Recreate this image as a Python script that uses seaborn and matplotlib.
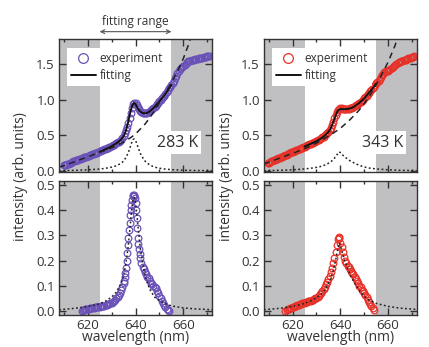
import matplotlib
matplotlib.use("Agg")
import matplotlib.pyplot as plt
from matplotlib.lines import Line2D
from matplotlib.ticker import MultipleLocator, FormatStrFormatter
import numpy as np
import pandas as pd
import seaborn as sns

# ---------------- data ----------------
# 283 K : full spectrum, sampled every 0.5 nm
wl_283 = np.arange(610, 671.25, 0.5)
int_283 = [0.080, 0.085, 0.090, 0.097, 0.105, 0.112, 0.120, 0.127, 0.135, 0.142,
           0.150, 0.155, 0.160, 0.166, 0.172, 0.178, 0.185, 0.191, 0.197, 0.203,
           0.210, 0.216, 0.222, 0.228, 0.235, 0.241, 0.248, 0.254, 0.260, 0.267,
           0.275, 0.282, 0.290, 0.297, 0.305, 0.312, 0.320, 0.327, 0.335, 0.342,
           0.350, 0.360, 0.370, 0.380, 0.390, 0.402, 0.415, 0.427, 0.440, 0.460,
           0.49, 0.53, 0.57, 0.62, 0.68, 0.75, 0.82, 0.89, 0.94, 0.96,
           0.955, 0.93, 0.90, 0.87, 0.845, 0.83, 0.815, 0.81, 0.81, 0.812,
           0.82, 0.83, 0.84, 0.855, 0.87, 0.885, 0.90, 0.92, 0.94, 0.96,
           0.98, 1.00, 1.02, 1.04, 1.06, 1.085, 1.11, 1.135, 1.16, 1.185,
           1.21, 1.24, 1.27, 1.305, 1.34, 1.375, 1.41, 1.435, 1.45, 1.455,
           1.47, 1.49, 1.51, 1.53, 1.54, 1.545, 1.55, 1.555, 1.56, 1.565,
           1.57, 1.575, 1.58, 1.585, 1.59, 1.592, 1.595, 1.598, 1.60, 1.605,
           1.61, 1.61, 1.61]

# 283 K : fitted curve over the fitting range
fit_wl_283 = [625, 626, 627, 628, 629, 630, 631, 632, 633, 634, 635, 635.5, 636, 636.5,
              637, 637.5, 638, 638.5, 639, 639.5, 640, 640.5, 641, 641.5, 642, 643, 644,
              645, 646, 647, 648, 649, 650, 651, 652, 653, 654, 655]
fit_283 = [0.27, 0.285, 0.30, 0.315, 0.33, 0.35, 0.37, 0.39, 0.415, 0.445, 0.49, 0.525,
           0.57, 0.63, 0.70, 0.78, 0.85, 0.91, 0.945, 0.955, 0.94, 0.91, 0.88, 0.855,
           0.835, 0.815, 0.81, 0.82, 0.84, 0.87, 0.90, 0.94, 0.98, 1.02, 1.06, 1.11,
           1.16, 1.21]

# 283 K : background
bg_wl_283 = [608, 610, 614, 618, 622, 626, 630, 634, 638, 640, 642, 644, 646, 648, 650,
             652, 654, 656, 658, 660, 662, 663]
bg_283 = [0.055, 0.075, 0.125, 0.175, 0.225, 0.275, 0.325, 0.39, 0.47, 0.52, 0.59, 0.66,
          0.75, 0.85, 0.96, 1.07, 1.18, 1.30, 1.43, 1.58, 1.76, 1.86]

# 283 K : Lorentzian component
pk_wl_283 = [608, 612, 616, 620, 624, 627, 630, 632, 634, 635, 636, 637, 638, 638.5, 639,
             639.5, 640, 640.5, 641, 642, 643, 644, 645, 646, 648, 650, 652, 655, 660,
             665, 672]
pk_283 = [0.005, 0.008, 0.012, 0.018, 0.026, 0.036, 0.055, 0.075, 0.11, 0.14, 0.19, 0.26,
          0.36, 0.41, 0.445, 0.45, 0.43, 0.39, 0.34, 0.25, 0.19, 0.14, 0.11, 0.085, 0.055,
          0.04, 0.03, 0.02, 0.012, 0.008, 0.005]

# 283 K : background-subtracted spectrum
sub_wl_283 = [617.5, 618, 618.5, 619, 619.5, 620, 620.5, 621, 621.5, 622, 622.5, 623,
              623.5, 624, 624.5, 625, 625.5, 626, 626.5, 627, 627.5, 628, 628.5, 629,
              629.5, 630, 630.5, 631, 631.5, 632, 632.5, 633, 633.5, 634, 634.5, 635,
              635.25, 635.5, 635.75, 636, 636.25, 636.5, 636.75, 637, 637.25, 637.5,
              637.75, 638, 638.25, 638.5, 638.75, 639, 639.25, 639.5, 639.75, 640, 640.25,
              640.5, 640.75, 641, 641.25, 641.5, 641.75, 642, 642.5, 643, 643.5, 644,
              644.5, 645, 645.5, 646, 646.5, 647, 647.5, 648, 648.5, 649, 649.5, 650,
              650.5, 651, 651.5, 652, 652.5, 653, 653.5, 654]
sub_283 = [0.0, 0.002, 0.004, 0.006, 0.007, 0.008, 0.009, 0.01, 0.011, 0.012, 0.013, 0.014,
           0.015, 0.016, 0.016, 0.017, 0.018, 0.019, 0.02, 0.021, 0.022, 0.024, 0.026,
           0.028, 0.03, 0.033, 0.036, 0.04, 0.044, 0.05, 0.056, 0.063, 0.072, 0.082, 0.095,
           0.11, 0.12, 0.135, 0.15, 0.17, 0.20, 0.23, 0.26, 0.29, 0.32, 0.35, 0.38, 0.40,
           0.42, 0.44, 0.455, 0.46, 0.46, 0.455, 0.45, 0.43, 0.40, 0.37, 0.33, 0.29, 0.265,
           0.245, 0.225, 0.21, 0.19, 0.175, 0.165, 0.155, 0.145, 0.135, 0.13, 0.12, 0.11,
           0.105, 0.10, 0.095, 0.09, 0.08, 0.07, 0.06, 0.05, 0.04, 0.03, 0.022, 0.015,
           0.008, 0.003, 0.0]

# 343 K : full spectrum, sampled every 0.5 nm
wl_343 = np.arange(609.5, 671.25, 0.5)
int_343 = [0.115,
           0.12, 0.127, 0.135, 0.142, 0.15, 0.157, 0.165, 0.172, 0.18, 0.187,
           0.195, 0.202, 0.21, 0.217, 0.225, 0.232, 0.24, 0.247, 0.255, 0.262,
           0.27, 0.277, 0.285, 0.292, 0.30, 0.307, 0.315, 0.322, 0.33, 0.337,
           0.345, 0.352, 0.36, 0.367, 0.375, 0.382, 0.39, 0.397, 0.405, 0.412,
           0.42, 0.43, 0.44, 0.45, 0.46, 0.472, 0.485, 0.50, 0.515, 0.532,
           0.55, 0.575, 0.61, 0.65, 0.69, 0.74, 0.79, 0.83, 0.86, 0.875,
           0.88, 0.88, 0.875, 0.875, 0.875, 0.875, 0.875, 0.877, 0.88, 0.885,
           0.89, 0.90, 0.91, 0.922, 0.935, 0.947, 0.96, 0.975, 0.99, 1.005,
           1.02, 1.04, 1.06, 1.08, 1.10, 1.12, 1.14, 1.16, 1.18, 1.205,
           1.23, 1.25, 1.27, 1.295, 1.32, 1.345, 1.37, 1.385, 1.40, 1.405,
           1.41, 1.42, 1.43, 1.445, 1.46, 1.475, 1.49, 1.505, 1.52, 1.525,
           1.53, 1.54, 1.55, 1.555, 1.56, 1.567, 1.575, 1.582, 1.59, 1.595,
           1.60, 1.605, 1.61]

# 343 K : fitted curve over the fitting range
fit_wl_343 = [625, 626, 627, 628, 629, 630, 631, 632, 633, 634, 635, 635.5, 636, 636.5,
              637, 637.5, 638, 638.5, 639, 639.5, 640, 640.5, 641, 642, 643, 644, 645, 646,
              647, 648, 649, 650, 651, 652, 653, 654, 655]
fit_343 = [0.345, 0.36, 0.375, 0.39, 0.405, 0.42, 0.44, 0.46, 0.485, 0.515, 0.55, 0.575,
           0.605, 0.645, 0.685, 0.73, 0.78, 0.82, 0.85, 0.865, 0.87, 0.87, 0.87, 0.87,
           0.872, 0.88, 0.89, 0.91, 0.935, 0.96, 0.99, 1.02, 1.06, 1.10, 1.14, 1.18, 1.23]

# 343 K : background
bg_wl_343 = [608, 612, 616, 620, 624, 628, 632, 636, 640, 644, 648, 652, 656, 660, 663,
             663.8]
bg_343 = [0.10, 0.15, 0.20, 0.25, 0.30, 0.36, 0.43, 0.51, 0.60, 0.72, 0.86, 1.04, 1.27,
          1.53, 1.77, 1.86]

# 343 K : Lorentzian component
pk_wl_343 = [608, 612, 616, 620, 624, 627, 630, 632, 634, 636, 637, 638, 639, 639.5, 640,
             641, 642, 643, 644, 646, 648, 650, 652, 655, 660, 665, 672]
pk_343 = [0.005, 0.008, 0.012, 0.018, 0.027, 0.037, 0.052, 0.067, 0.09, 0.13, 0.16, 0.20,
          0.25, 0.27, 0.26, 0.225, 0.195, 0.17, 0.145, 0.11, 0.08, 0.058, 0.043, 0.03,
          0.018, 0.011, 0.006]

# 343 K : background-subtracted spectrum
sub_wl_343 = [617, 617.5, 618, 618.5, 619, 619.5, 620, 620.5, 621, 621.5, 622, 622.5, 623,
              623.5, 624, 624.5, 625, 625.5, 626, 626.5, 627, 627.5, 628, 628.5, 629,
              629.5, 630, 630.5, 631, 631.5, 632, 632.5, 633, 633.5, 634, 634.5, 635,
              635.5, 636, 636.5, 637, 637.5, 638, 638.5, 639, 639.25, 639.5, 640, 640.5,
              641, 641.5, 642, 642.5, 643, 643.5, 644, 644.5, 645, 645.5, 646, 646.5, 647,
              647.5, 648, 648.5, 649, 649.5, 650, 650.5, 651, 651.5, 652, 652.5, 653,
              653.5, 654]
sub_343 = [0.0, 0.003, 0.006, 0.009, 0.011, 0.013, 0.015, 0.017, 0.019, 0.021, 0.023,
           0.025, 0.027, 0.029, 0.03, 0.032, 0.033, 0.035, 0.036, 0.038, 0.04, 0.041,
           0.043, 0.045, 0.047, 0.05, 0.053, 0.057, 0.061, 0.066, 0.072, 0.079, 0.087,
           0.096, 0.105, 0.116, 0.128, 0.14, 0.155, 0.172, 0.19, 0.21, 0.235, 0.26, 0.285,
           0.295, 0.29, 0.27, 0.255, 0.235, 0.215, 0.20, 0.19, 0.18, 0.175, 0.165, 0.16,
           0.15, 0.145, 0.135, 0.125, 0.118, 0.11, 0.10, 0.095, 0.085, 0.078, 0.07, 0.062,
           0.055, 0.045, 0.037, 0.028, 0.02, 0.012, 0.005]

temps = ["283 K", "343 K"]
colors = ["#6b52b8", "#e8322a"]
fit_range = (625, 655)
x_ticks = [620, 640, 660]

# ---------------- style ----------------
sns.set_style("ticks")
plt.rcParams["font.family"] = ["Open Sans", "DejaVu Sans"]
plt.rcParams["axes.edgecolor"] = "#333333"
plt.rcParams["xtick.color"] = "#333333"
plt.rcParams["ytick.color"] = "#333333"
plt.rcParams["text.color"] = "#333333"
plt.rcParams["axes.labelcolor"] = "#333333"

GRAY = "#c0c0c3"
W, H = 429, 347
fig = plt.figure(figsize=(W / 100, H / 100), dpi=100)


def px_axes(x0, y0, x1, y1):
    return fig.add_axes([x0 / W, 1 - y1 / H, (x1 - x0) / W, (y1 - y0) / H])


def style_axes(ax, ylim, ymajor, show_xlabels):
    ax.set_xlim(608, 672)
    ax.set_ylim(*ylim)
    ax.axvspan(608, fit_range[0], color=GRAY, lw=0, zorder=0)
    ax.axvspan(fit_range[1], 672, color=GRAY, lw=0, zorder=0)
    ax.xaxis.set_major_locator(MultipleLocator(20))
    ax.xaxis.set_minor_locator(MultipleLocator(10))
    ax.yaxis.set_major_locator(MultipleLocator(ymajor))
    ax.yaxis.set_major_formatter(FormatStrFormatter("%.1f"))
    ax.tick_params(which="both", direction="in", top=True, right=True,
                   labelsize=9.5, pad=3)
    ax.tick_params(which="major", length=5, width=1.0)
    ax.tick_params(which="minor", length=2.5, width=1.0)
    for s in ax.spines.values():
        s.set_linewidth(1.0)
        s.set_zorder(5)
    ax.set_xlabel("")
    ax.set_ylabel("")
    if show_xlabels:
        ax.set_xlabel("wavelength (nm)", fontsize=10, labelpad=-1)
    else:
        ax.tick_params(axis="x", labelbottom=False)


def draw_points(ax, x, y, c):
    df = pd.DataFrame({"wavelength": x, "intensity": y})
    sns.lineplot(data=df, x="wavelength", y="intensity", ax=ax, marker="o",
                 linestyle="none", markersize=4.8, markerfacecolor="none",
                 markeredgecolor=c, markeredgewidth=0.9, zorder=2)


cols = [(59, 212), (264, 416.7)]
series = [
    (wl_283, int_283, fit_wl_283, fit_283, bg_wl_283, bg_283, pk_wl_283, pk_283,
     sub_wl_283, sub_283),
    (wl_343, int_343, fit_wl_343, fit_343, bg_wl_343, bg_343, pk_wl_343, pk_343,
     sub_wl_343, sub_343),
]
DOTS = (0, (1.2, 1.6))

for i, (x0, x1) in enumerate(cols):
    wl, it, fwl, fit, bwl, bg, pwl, pk, swl, sub = series[i]
    c = colors[i]

    # upper panel: spectrum with fit decomposition
    ax = px_axes(x0, 39, x1, 172.5)
    draw_points(ax, wl, it, c)
    sns.lineplot(x=fwl, y=fit, ax=ax, color="#111111", lw=1.4, zorder=3)
    sns.lineplot(x=bwl, y=bg, ax=ax, color="#222222", lw=1.1,
                 dashes=(4, 3), zorder=4)
    sns.lineplot(x=pwl, y=pk, ax=ax, color="#222222", lw=1.1,
                 linestyle=DOTS, zorder=4)
    style_axes(ax, (-0.02, 1.855), 0.5, False)

    handles = [
        Line2D([], [], marker="o", ls="none", mfc="none", mec=c, mew=0.9, ms=7),
        Line2D([], [], color="#111111", lw=1.4),
    ]
    leg = ax.legend(handles, ["experiment", "fitting"], loc="upper left",
                    bbox_to_anchor=(0.05, 0.93), fontsize=8.5, frameon=True,
                    framealpha=1, facecolor="white", edgecolor="none",
                    handlelength=2.1, handletextpad=0.35, labelspacing=0.3,
                    borderpad=0.35, borderaxespad=0)
    leg.get_frame().set_boxstyle("square", pad=0)
    leg.set_zorder(6)

    ax.text(657.6, 0.40, temps[i], fontsize=11.5, ha="center", va="center",
            zorder=6, bbox=dict(boxstyle="square,pad=0.2", fc="white", ec="none"))

    if i == 0:
        ax.annotate("", xy=(fit_range[0], 1.055), xytext=(fit_range[1], 1.055),
                    xycoords=("data", "axes fraction"),
                    textcoords=("data", "axes fraction"),
                    arrowprops=dict(arrowstyle="<->", color="#555555", lw=0.8,
                                    shrinkA=0, shrinkB=0, mutation_scale=7))
        ax.text(np.mean(fit_range), 1.13, "fitting range", fontsize=8.5,
                ha="center", va="center", transform=ax.get_xaxis_transform())

    # lower panel: isolated peak
    ax2 = px_axes(x0, 181.3, x1, 314.7)
    draw_points(ax2, swl, sub, c)
    sns.lineplot(x=pwl, y=pk, ax=ax2, color="#222222", lw=1.1,
                 linestyle=DOTS, zorder=4)
    style_axes(ax2, (-0.015, 0.515), 0.1, True)
    ax2.set_xticks(x_ticks)

    # shared y-axis label for the column
    label_x = 21 if i == 0 else 227
    fig.text(label_x / W, 1 - 177 / H, "intensity (arb. units)", rotation=90,
             ha="center", va="center", fontsize=10)

fig.savefig("out.png", dpi=100)
